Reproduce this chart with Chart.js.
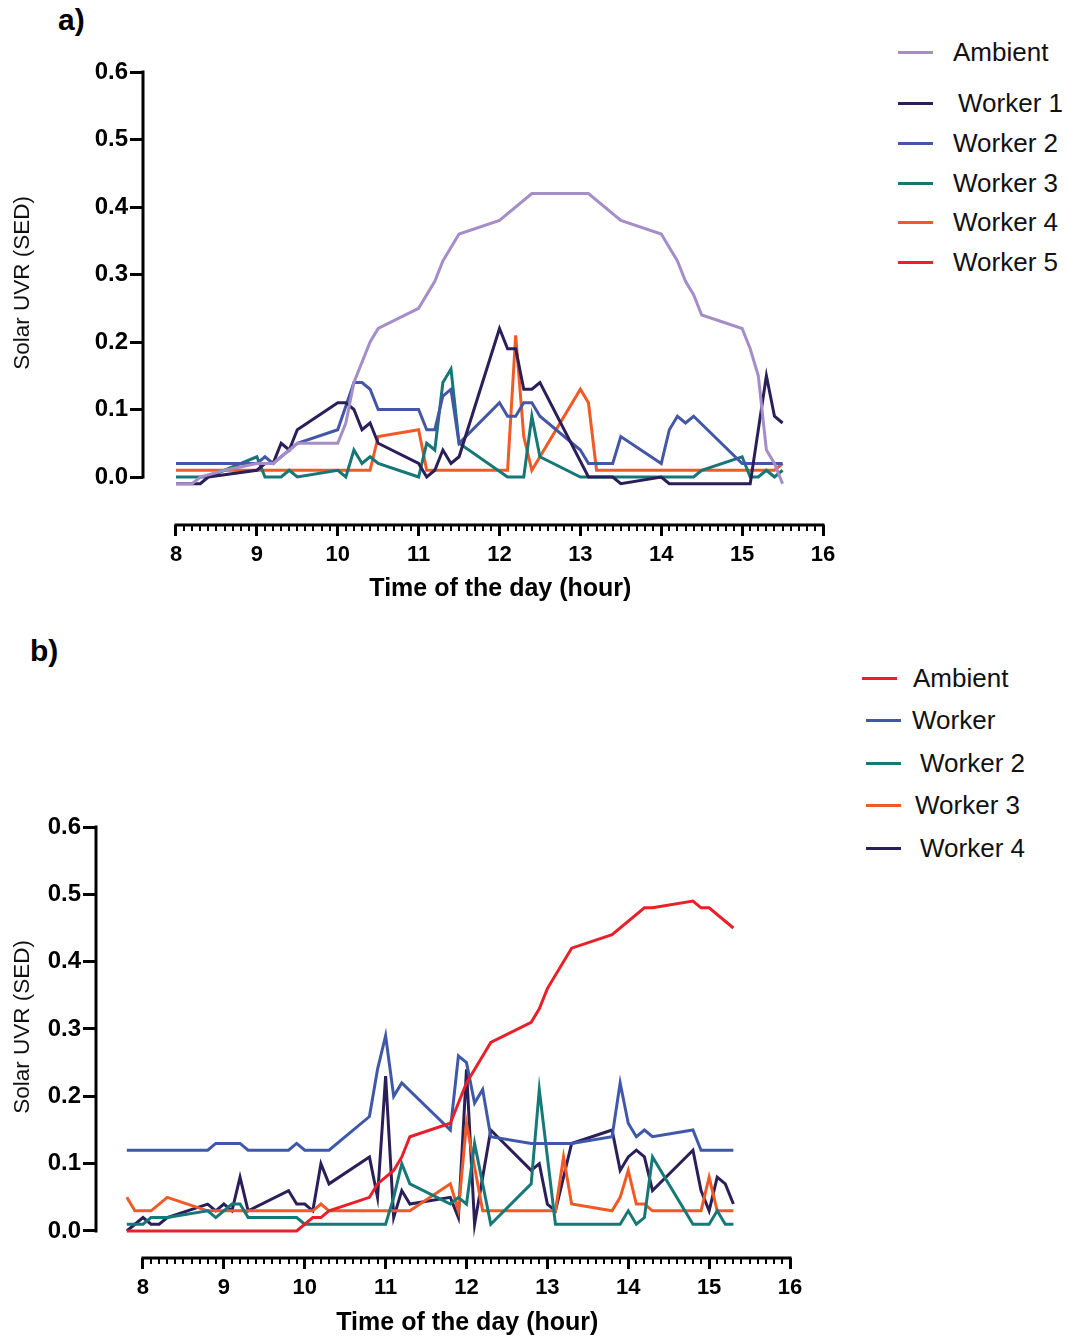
<!DOCTYPE html>
<html>
<head>
<meta charset="utf-8">
<script src="https://cdn.jsdelivr.net/npm/chart.js@4.4.1/dist/chart.umd.min.js"></script>
<style>
  html, body { margin: 0; padding: 0; background: #fff; }
  body { width: 1067px; height: 1336px; position: relative; overflow: hidden; font-family: "Liberation Sans", Arial, sans-serif; }
  canvas { position: absolute; left: 0; }
  .panel { position: absolute; font-weight: bold; font-size: 30px; color: #000; }
  .leg { position: absolute; font-size: 26px; color: #111; white-space: pre; line-height: 1; }
  .legline { position: absolute; height: 3px; }
</style>
</head>
<body>
<div class="panel" style="left:58px; top:3px;">a)</div>
<div class="panel" style="left:30px; top:634px;">b)</div>
<canvas id="ca" width="860" height="610" style="top:0px;"></canvas>
<canvas id="cb" width="860" height="698" style="top:640px;"></canvas>
<div id="legends"></div>
<script>
// ---------- Data ----------
const yTicks = [0.0, 0.1, 0.2, 0.3, 0.4, 0.5, 0.6];
const xTicks = [8, 9, 10, 11, 12, 13, 14, 15, 16];

// Panel a
const aLabels = ["Ambient", " Worker 1", "Worker 2", "Worker 3", "Worker 4", "Worker 5"];
const aColors = ["#a48dc8", "#2b1f5a", "#4357a6", "#177676", "#f15a24", "#e8202a"];
const aAmbientX = [8.0, 8.2, 8.3, 8.6, 9.0, 9.2, 9.5, 10.0, 10.1, 10.2, 10.4, 10.5, 11.0, 11.2, 11.3, 11.5, 12.0, 12.4, 13.1, 13.5, 14.0, 14.2, 14.3, 14.4, 14.5, 15.0, 15.1, 15.2, 15.3, 15.4, 15.5];
const aAmbientY = [-0.01, -0.01, 0.0, 0.01, 0.02, 0.02, 0.05, 0.05, 0.08, 0.14, 0.20, 0.22, 0.25, 0.29, 0.32, 0.36, 0.38, 0.42, 0.42, 0.38, 0.36, 0.32, 0.29, 0.27, 0.24, 0.22, 0.19, 0.15, 0.04, 0.02, -0.01];
const aW1X = [8.0, 8.3, 8.4, 9.0, 9.1, 9.2, 9.3, 9.4, 9.5, 10.0, 10.1, 10.2, 10.3, 10.4, 10.5, 11.0, 11.1, 11.2, 11.3, 11.4, 11.5, 12.0, 12.1, 12.2, 12.3, 12.4, 12.5, 13.1, 13.4, 13.5, 14.0, 14.1, 15.1, 15.3, 15.4, 15.5];
const aW1Y = [-0.01, -0.01, 0.0, 0.01, 0.02, 0.02, 0.05, 0.04, 0.07, 0.11, 0.11, 0.10, 0.07, 0.08, 0.05, 0.02, 0.0, 0.01, 0.04, 0.02, 0.03, 0.22, 0.19, 0.19, 0.13, 0.13, 0.14, 0.0, 0.0, -0.01, 0.0, -0.01, -0.01, 0.15, 0.09, 0.08];
const aW2X = [8.0, 9.0, 9.1, 9.2, 9.5, 10.0, 10.2, 10.3, 10.4, 10.5, 11.0, 11.1, 11.2, 11.3, 11.4, 11.5, 12.0, 12.1, 12.2, 12.3, 12.4, 12.5, 13.0, 13.1, 13.4, 13.5, 14.0, 14.1, 14.2, 14.3, 14.4, 15.0, 15.5];
const aW2Y = [0.02, 0.02, 0.03, 0.02, 0.05, 0.07, 0.14, 0.14, 0.13, 0.10, 0.10, 0.07, 0.07, 0.12, 0.13, 0.05, 0.11, 0.09, 0.09, 0.11, 0.11, 0.09, 0.04, 0.02, 0.02, 0.06, 0.02, 0.07, 0.09, 0.08, 0.09, 0.02, 0.02];
const aW3X = [8.0, 8.4, 9.0, 9.1, 9.3, 9.4, 9.5, 10.0, 10.1, 10.2, 10.3, 10.4, 10.5, 11.0, 11.1, 11.2, 11.3, 11.4, 11.5, 12.1, 12.3, 12.4, 12.5, 13.0, 14.4, 14.5, 15.0, 15.1, 15.2, 15.3, 15.4, 15.5];
const aW3Y = [0.0, 0.0, 0.03, 0.0, 0.0, 0.01, 0.0, 0.01, 0.0, 0.04, 0.02, 0.03, 0.02, 0.0, 0.05, 0.04, 0.14, 0.16, 0.05, 0.0, 0.0, 0.09, 0.03, 0.0, 0.0, 0.01, 0.03, 0.0, 0.0, 0.01, 0.0, 0.01];
const aW4X = [8.0, 10.4, 10.5, 11.0, 11.1, 12.1, 12.2, 12.3, 12.4, 13.0, 13.1, 13.2, 15.4, 15.5];
const aW4Y = [0.01, 0.01, 0.06, 0.07, 0.01, 0.01, 0.21, 0.06, 0.01, 0.13, 0.11, 0.01, 0.01, 0.02];
const aW5X = [];
const aW5Y = [];

// Panel b
const bLabels = ["Ambient", "Worker", " Worker 2", "Worker 3", " Worker 4"];
const bColors = ["#e8202a", "#4058a8", "#177878", "#f15a24", "#2b1f5a"];
const bAmbientX = [7.8, 9.9, 10.1, 10.2, 10.3, 10.8, 10.9, 11.0, 11.1, 11.2, 11.3, 11.8, 11.9, 12.0, 12.1, 12.2, 12.3, 12.8, 12.9, 13.0, 13.3, 13.8, 14.2, 14.3, 14.8, 14.9, 15.0, 15.3];
const bAmbientY = [0.0, 0.0, 0.02, 0.02, 0.03, 0.05, 0.07, 0.08, 0.09, 0.11, 0.14, 0.16, 0.19, 0.22, 0.24, 0.26, 0.28, 0.31, 0.33, 0.36, 0.42, 0.44, 0.48, 0.48, 0.49, 0.48, 0.48, 0.45];
const bW1X = [7.8, 8.8, 8.9, 9.2, 9.3, 9.8, 9.9, 10.0, 10.3, 10.8, 10.9, 11.0, 11.1, 11.2, 11.8, 11.9, 12.0, 12.1, 12.2, 12.3, 12.8, 13.3, 13.8, 13.9, 14.0, 14.1, 14.2, 14.3, 14.8, 14.9, 15.3];
const bW1Y = [0.12, 0.12, 0.13, 0.13, 0.12, 0.12, 0.13, 0.12, 0.12, 0.17, 0.24, 0.29, 0.20, 0.22, 0.15, 0.26, 0.25, 0.19, 0.21, 0.14, 0.13, 0.13, 0.14, 0.22, 0.16, 0.14, 0.15, 0.14, 0.15, 0.12, 0.12];
const bW2X = [7.8, 8.0, 8.1, 8.3, 8.8, 8.9, 9.0, 9.1, 9.2, 9.3, 9.9, 10.0, 11.0, 11.1, 11.2, 11.3, 11.8, 11.9, 12.0, 12.1, 12.3, 12.8, 12.9, 13.0, 13.1, 13.9, 14.0, 14.1, 14.2, 14.3, 14.8, 15.0, 15.1, 15.2, 15.3];
const bW2Y = [0.01, 0.01, 0.02, 0.02, 0.03, 0.02, 0.03, 0.04, 0.04, 0.02, 0.02, 0.01, 0.01, 0.05, 0.10, 0.07, 0.04, 0.05, 0.04, 0.13, 0.01, 0.07, 0.21, 0.11, 0.01, 0.01, 0.03, 0.01, 0.02, 0.11, 0.01, 0.01, 0.03, 0.01, 0.01];
const bW3X = [7.8, 7.9, 8.1, 8.3, 8.8, 10.1, 10.2, 10.3, 11.3, 11.8, 11.9, 12.0, 12.2, 13.1, 13.2, 13.3, 13.8, 13.9, 14.0, 14.1, 14.2, 14.3, 14.9, 15.0, 15.1, 15.3];
const bW3Y = [0.05, 0.03, 0.03, 0.05, 0.03, 0.03, 0.04, 0.03, 0.03, 0.07, 0.03, 0.16, 0.03, 0.03, 0.11, 0.04, 0.03, 0.05, 0.09, 0.04, 0.04, 0.03, 0.03, 0.08, 0.03, 0.03];
const bW4X = [7.8, 8.0, 8.1, 8.2, 8.3, 8.8, 8.9, 9.0, 9.1, 9.2, 9.3, 9.8, 9.9, 10.0, 10.1, 10.2, 10.3, 10.8, 10.9, 11.0, 11.1, 11.2, 11.3, 11.8, 11.9, 12.0, 12.1, 12.3, 12.8, 12.9, 13.0, 13.1, 13.3, 13.8, 13.9, 14.0, 14.1, 14.2, 14.3, 14.8, 14.9, 15.0, 15.1, 15.2, 15.3];
const bW4Y = [0.0, 0.02, 0.01, 0.01, 0.02, 0.04, 0.03, 0.04, 0.03, 0.08, 0.03, 0.06, 0.04, 0.04, 0.03, 0.10, 0.07, 0.11, 0.05, 0.23, 0.02, 0.06, 0.04, 0.05, 0.02, 0.24, 0.01, 0.15, 0.09, 0.10, 0.04, 0.03, 0.13, 0.15, 0.09, 0.11, 0.12, 0.11, 0.06, 0.12, 0.06, 0.03, 0.08, 0.07, 0.04];

// ---------- Helpers ----------
const FONT = "'Liberation Sans', Arial, sans-serif";
function pts(xs, ys) { return xs.map((x, i) => ({ x: x, y: ys[i] })); }
function ds(label, color, xs, ys) {
  return { label: label.trim(), data: pts(xs, ys), borderColor: color, backgroundColor: color,
           borderWidth: 3, pointRadius: 0, tension: 0, fill: false, borderJoinStyle: 'miter' };
}

const prismAxes = {
  id: 'prismAxes',
  afterDraw(chart, args, opts) {
    const { ctx, chartArea } = chart;
    const xs = chart.scales.x, ys = chart.scales.y;
    ctx.save();
    ctx.strokeStyle = '#000';
    ctx.lineCap = 'butt';
    ctx.lineWidth = 3;
    const yl = chartArea.left;
    ctx.beginPath();
    ctx.moveTo(yl, ys.getPixelForValue(yTicks[yTicks.length - 1]) - 1.5);
    ctx.lineTo(yl, ys.getPixelForValue(yTicks[0]) + 1.5);
    ctx.stroke();
    const yb = chartArea.bottom;
    ctx.beginPath();
    ctx.moveTo(xs.getPixelForValue(xTicks[0]) - 1.5, yb);
    ctx.lineTo(xs.getPixelForValue(xTicks[xTicks.length - 1]) + 1.5, yb);
    ctx.stroke();
    ctx.lineWidth = 2;
    ctx.beginPath();
    const n = (xTicks[xTicks.length - 1] - xTicks[0]) * 10;
    for (let i = 1; i < n; i++) {
      if (i % 10 === 0) continue;
      const px = Math.round(xs.getPixelForValue(xTicks[0] + i / 10));
      ctx.moveTo(px, yb);
      ctx.lineTo(px, yb + opts.minorLen);
    }
    ctx.stroke();
    ctx.restore();
  }
};

const yTitle = '\u00a0\u00a0\u00a0\u00a0\u00a0Solar UVR (SED)';
const xTitle = 'Time of the day (hour)';

function makeChart(id, datasets, cfg) {
  return new Chart(document.getElementById(id), {
    type: 'line',
    data: { datasets: datasets },
    plugins: [prismAxes],
    options: {
      responsive: false,
      animation: false,
      devicePixelRatio: 1,
      layout: { padding: { left: cfg.padLeft, top: cfg.padTop, right: cfg.padRight, bottom: 0 } },
      plugins: { legend: { display: false }, tooltip: { enabled: false }, prismAxes: { minorLen: cfg.minorLen } },
      scales: {
        x: {
          type: 'linear', min: cfg.xMin, max: 16,
          afterBuildTicks: s => { s.ticks = xTicks.map(v => ({ value: v })); },
          afterFit: s => { s.height = cfg.xHeight; },
          border: { display: false },
          grid: { drawOnChartArea: false, drawTicks: true, tickLength: cfg.majorLen, tickWidth: 3, tickColor: '#000' },
          ticks: { color: '#000', font: { family: FONT, size: 22, weight: 'bold' }, padding: cfg.xPad, maxRotation: 0, autoSkip: false,
                   callback: v => String(Math.round(v)) },
          title: { display: true, text: '\u00a0'.repeat(cfg.xTitleShift) + xTitle, color: '#000',
                   font: { family: FONT, size: 25, weight: 'bold' }, padding: { top: 0, bottom: cfg.xTitlePad } }
        },
        y: {
          type: 'linear', min: cfg.yMin, max: 0.6,
          afterBuildTicks: s => { s.ticks = yTicks.map(v => ({ value: v })); },
          afterFit: s => { s.width = cfg.yWidth; },
          border: { display: false },
          grid: { drawOnChartArea: false, drawTicks: true, tickLength: 13, tickWidth: 3, tickColor: '#000' },
          ticks: { color: '#000', font: { family: FONT, size: 24, weight: 'bold' }, padding: 2, autoSkip: false,
                   callback: v => Number(v).toFixed(1) },
          title: { display: true, text: yTitle, color: '#111',
                   font: { family: FONT, size: 22.5, weight: 'normal' }, padding: { top: 0, bottom: 0 } }
        }
      }
    }
  });
}

const aSeries = [[aAmbientX, aAmbientY], [aW1X, aW1Y], [aW2X, aW2Y], [aW3X, aW3Y], [aW4X, aW4Y], [aW5X, aW5Y]];
const bSeries = [[bAmbientX, bAmbientY], [bW1X, bW1Y], [bW2X, bW2Y], [bW3X, bW3Y], [bW4X, bW4Y]];

makeChart('ca', aSeries.map((s, i) => ds(aLabels[i], aColors[i], s[0], s[1])),
  { padLeft: 9, padTop: 72, padRight: 37, xMin: 7.592, yMin: -0.0711, xHeight: 85, yWidth: 134,
    majorLen: 11, minorLen: 6, xPad: 6, xTitlePad: 6, xTitleShift: 5 });
makeChart('cb', bSeries.map((s, i) => ds(bLabels[i], bColors[i], s[0], s[1])),
  { padLeft: 9, padTop: 187, padRight: 70, xMin: 7.419, yMin: -0.0401, xHeight: 80, yWidth: 87,
    majorLen: 11, minorLen: 6, xPad: 6, xTitlePad: 0, xTitleShift: 7 });

// ---------- Legends ----------
const legendHost = document.getElementById('legends');
function addLegend(labels, colors, lineX, textX, rows) {
  labels.forEach((lab, i) => {
    const l = document.createElement('div');
    l.className = 'legline';
    l.style.left = lineX[i] + 'px'; l.style.width = '35px';
    l.style.top = (rows[i] - 1.5) + 'px'; l.style.background = colors[i];
    legendHost.appendChild(l);
    const t = document.createElement('div');
    t.className = 'leg';
    t.textContent = lab.trim();
    t.style.left = textX[i] + 'px'; t.style.top = (rows[i] - 13) + 'px';
    legendHost.appendChild(t);
  });
}
addLegend(aLabels, aColors, [898, 898, 898, 898, 898, 898], [953, 958, 953, 953, 953, 953], [52, 103, 143, 183, 222, 262]);
addLegend(bLabels, bColors, [862, 866, 866, 866, 866], [913, 912, 920, 915, 920], [678, 720, 763, 805, 848]);
</script>
</body>
</html>
